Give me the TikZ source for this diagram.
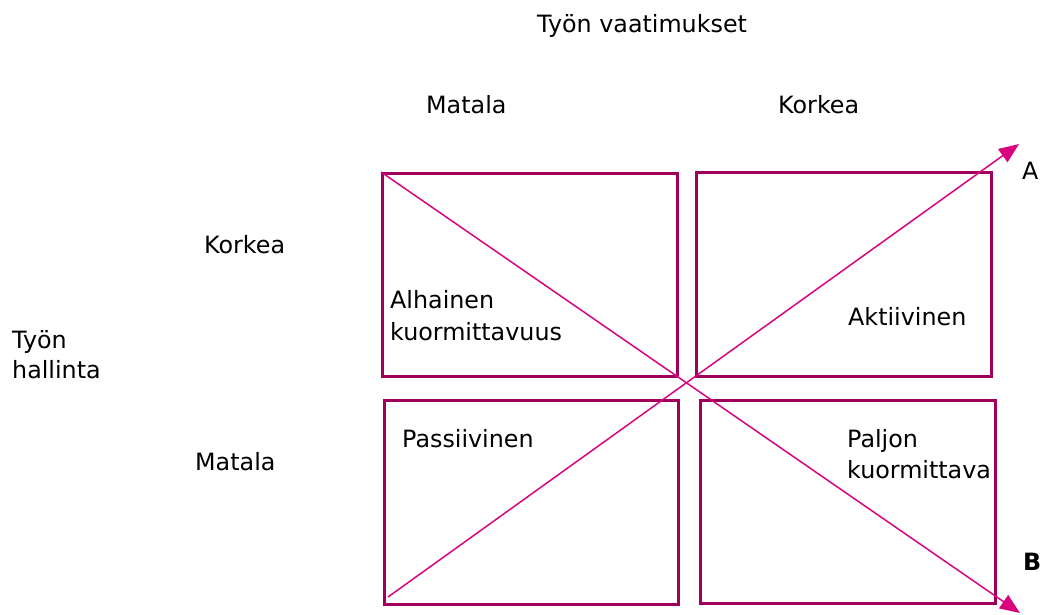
\documentclass[tikz,border=0pt]{standalone}
\usepackage{fontspec}
\setmainfont{DejaVu Sans}
\usetikzlibrary{arrows.meta}
\definecolor{boxframe}{HTML}{A0005C}
\definecolor{diag}{HTML}{D8047F}
\tikzset{
  quad/.style={draw=boxframe, line width=2.8pt, rectangle, anchor=north west, inner sep=0pt},
  diagline/.style={draw=diag, line width=1.5pt, -{Triangle[length=20pt,width=16pt]}},
  lbl/.style={anchor=base west, inner sep=0pt, font=\fontsize{23.8}{28}\selectfont}
}
\begin{document}
\begin{tikzpicture}[x=1pt,y=-1pt]
\useasboundingbox (0,0) rectangle (1043,614);
% four quadrants
\node[quad, minimum width=295pt, minimum height=203pt] (q11) at (381,172) {};
\node[quad, minimum width=295pt, minimum height=204pt] (q12) at (695,171) {};
\node[quad, minimum width=294pt, minimum height=204pt] (q21) at (383,399) {};
\node[quad, minimum width=295pt, minimum height=203pt] (q22) at (699,399) {};
% diagonal axes
\coordinate (astart) at (388,597);
\coordinate (aend) at (1019,144);
\coordinate (bend) at (1020,613);
\draw[diagline] (astart) -- (aend);
\draw[diagline] (q11.north west) -- (bend);
% headings
\node[lbl] (title) at (537,32) {Työn vaatimukset};
\node[lbl] (dlow) at (426,113) {Matala};
\node[lbl] (dhigh) at (778,113) {Korkea};
\node[lbl] (chigh) at (204,253) {Korkea};
\node[lbl] (clow) at (195,470) {Matala};
\node[lbl] (ctrl1) at (12,348) {Työn};
\node[lbl] (ctrl2) at (12,378) {hallinta};
% quadrant labels
\node[lbl] (t11a) at (390,308) {Alhainen};
\node[lbl] (t11b) at (390,340) {kuormittavuus};
\node[lbl] (t12) at (848,325) {Aktiivinen};
\node[lbl] (t21) at (402,447) {Passiivinen};
\node[lbl] (t22a) at (847,447) {Paljon};
\node[lbl] (t22b) at (847,478) {kuormittava};
% axis ends
\node[lbl] (la) at (1022,179) {A};
\node[lbl, font=\fontsize{23.8}{28}\selectfont\bfseries] (lb) at (1023,570) {B};
\end{tikzpicture}
\end{document}
